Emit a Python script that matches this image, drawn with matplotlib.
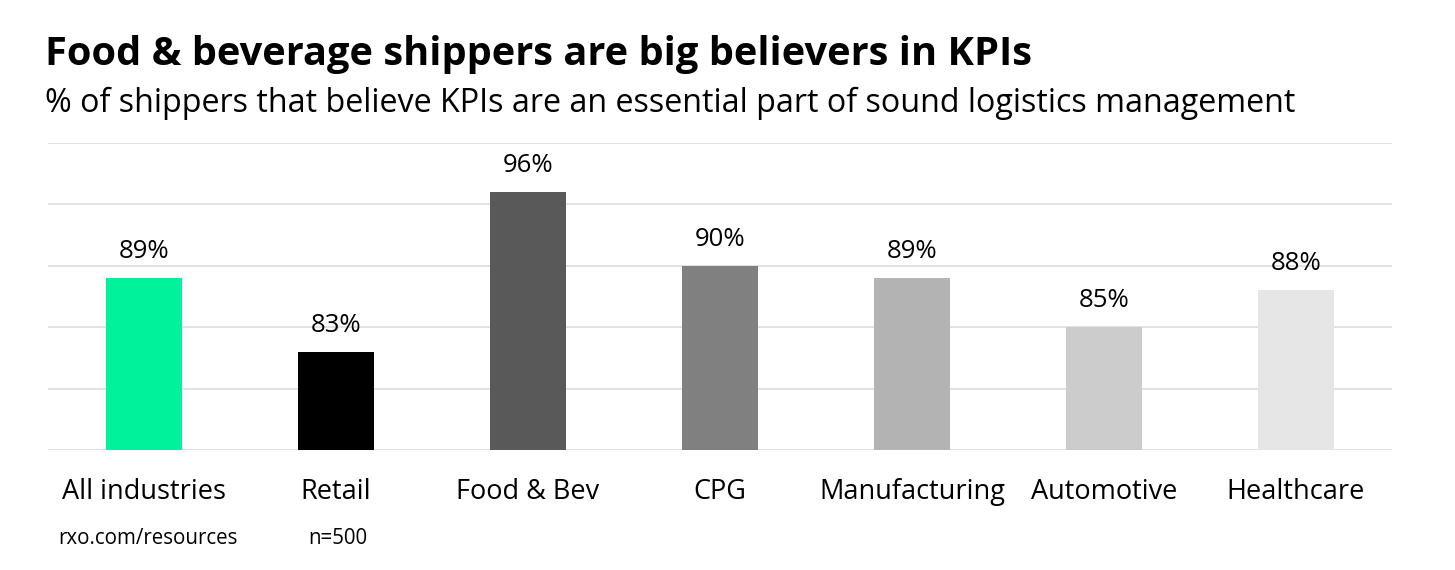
import matplotlib
matplotlib.use("Agg")
import matplotlib.pyplot as plt

categories = ["All industries", "Retail", "Food & Bev", "CPG", "Manufacturing", "Automotive", "Healthcare"]
values = [89, 83, 96, 90, 89, 85, 88]
colors = ["#00f29b", "#000000", "#595959", "#808080", "#b3b3b3", "#cccccc", "#e6e6e6"]

title = "Food & beverage shippers are big believers in KPIs"
subtitle = "% of shippers that believe KPIs are an essential part of sound logistics management"
source = "rxo.com/resources"
sample = "n=500"

plt.rcParams['font.family'] = ['Open Sans', 'DejaVu Sans']

W, H = 1455, 570
fig = plt.figure(figsize=(W / 100, H / 100), dpi=100)
ax = fig.add_axes([48 / W, 1 - 450 / H, (1392 - 48) / W, (450 - 143) / H])

x = list(range(len(categories)))
ax.bar(x, values, width=0.4, color=colors, zorder=3)
ax.set_xlim(-0.5, len(categories) - 0.5)
ax.set_ylim(75, 100)
ax.set_yticks([75, 80, 85, 90, 95, 100])
ax.yaxis.grid(True, color="#dddddd", linewidth=1.2, zorder=0)
ax.tick_params(axis='y', left=False, labelleft=False)
ax.tick_params(axis='x', bottom=False, labelsize=19.5, pad=17)
ax.set_xticks(x)
ax.set_xticklabels(categories)
for s in ax.spines.values():
    s.set_visible(False)

for xi, v in zip(x, values):
    ax.annotate(f"{v}%", (xi, v), xytext=(0, 10), textcoords="offset points",
                ha="center", va="bottom", fontsize=18.5)

fig.text(45 / W, 1 - 55 / H, title, fontsize=28.6, fontweight="bold", va="center", ha="left")
fig.text(45 / W, 1 - 103 / H, subtitle, fontsize=23.2, va="center", ha="left")
fig.text(58 / W, 1 - 539 / H, source, fontsize=14.8, va="center", ha="left")
fig.text(308 / W, 1 - 539 / H, sample, fontsize=14.8, va="center", ha="left")

fig.savefig("out.png", dpi=100, facecolor="white")
